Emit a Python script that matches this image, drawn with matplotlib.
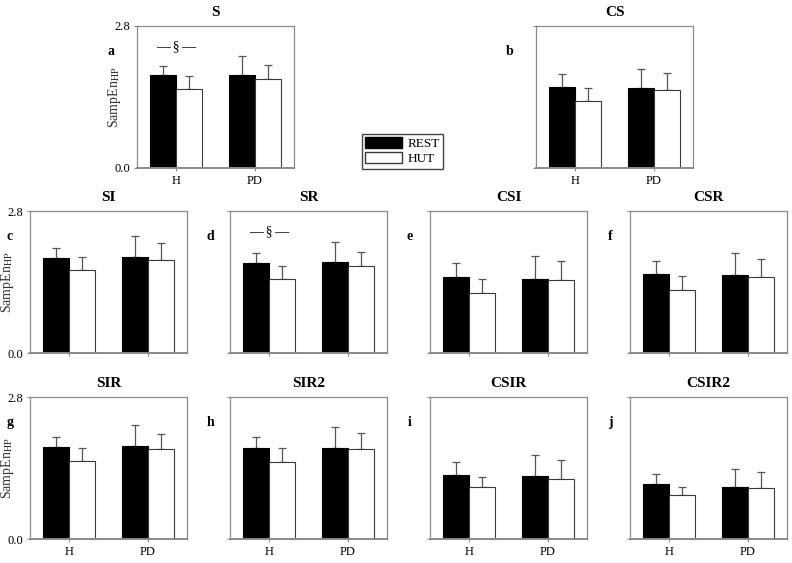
import numpy as np
import matplotlib
matplotlib.use('Agg')
import matplotlib.pyplot as plt
from matplotlib.patches import Patch

plt.rcParams['font.family'] = ['Liberation Serif', 'DejaVu Serif']
plt.rcParams['mathtext.fontset'] = 'stix'

# panel data: values are [H, PD]
titles = ['S', 'CS', 'SI', 'SR', 'CSI', 'CSR', 'SIR', 'SIR2', 'CSIR', 'CSIR2']
letters = ['a', 'b', 'c', 'd', 'e', 'f', 'g', 'h', 'i', 'j']
groups = ['H', 'PD']
rest_mean = [[1.83, 1.83], [1.60, 1.57], [1.88, 1.90], [1.77, 1.785], [1.495, 1.46],
             [1.55, 1.535], [1.81, 1.83], [1.79, 1.79], [1.27, 1.24], [1.075, 1.035]]
rest_sd = [[0.175, 0.38], [0.25, 0.38], [0.19, 0.41], [0.21, 0.405], [0.275, 0.46],
           [0.26, 0.445], [0.21, 0.41], [0.22, 0.42], [0.24, 0.41], [0.215, 0.355]]
hut_mean = [[1.56, 1.76], [1.33, 1.545], [1.63, 1.83], [1.46, 1.71], [1.186, 1.43],
            [1.24, 1.49], [1.53, 1.77], [1.51, 1.765], [1.02, 1.19], [0.86, 1.00]]
hut_sd = [[0.25, 0.27], [0.25, 0.335], [0.27, 0.34], [0.26, 0.29], [0.27, 0.38],
          [0.275, 0.37], [0.26, 0.31], [0.28, 0.325], [0.21, 0.36], [0.175, 0.32]]
sig_panels = ['a', 'd']   # significant REST vs HUT in H
ymax = 2.8

W, H = 792.0, 563.0
aw, ah = 157 / W, 142 / H
pos = {
    'a': (137, 168), 'b': (536, 168),
    'c': (30, 353), 'd': (230, 353), 'e': (430, 353), 'f': (630, 353),
    'g': (30, 539), 'h': (230, 539), 'i': (430, 539), 'j': (630, 539),
}

fig = plt.figure(figsize=(7.92, 5.63), dpi=100)
spine_col = '#8a8a8a'
bw = 0.33
x = np.arange(len(groups))

for k in range(len(titles)):
    let = letters[k]
    px, py = pos[let]
    ax = fig.add_axes([px / W, 1 - py / H, aw, ah])
    ax.bar(x - bw / 2, rest_mean[k], bw, color='black', edgecolor='black', lw=0.8, zorder=2)
    ax.bar(x + bw / 2, hut_mean[k], bw, color='white', edgecolor='#3a3a3a', lw=0.8, zorder=2)
    ax.errorbar(x - bw / 2, rest_mean[k], yerr=[np.zeros(2), rest_sd[k]], fmt='none',
                ecolor='#555555', elinewidth=0.9, capsize=3, capthick=0.9, zorder=1)
    ax.errorbar(x + bw / 2, hut_mean[k], yerr=[np.zeros(2), hut_sd[k]], fmt='none',
                ecolor='#555555', elinewidth=0.9, capsize=3, capthick=0.9, zorder=1)
    ax.set_xlim(-0.5, 1.5)
    ax.set_ylim(0, ymax)
    for s in ax.spines.values():
        s.set_color(spine_col)
        s.set_linewidth(0.9)
    ax.spines['bottom'].set_linewidth(1.4)
    ax.set_title(titles[k], fontsize=11, fontweight='bold', pad=7)
    lx = -0.165 if let in ['a', 'b'] else -0.127
    ax.text(lx, 0.82, let, transform=ax.transAxes, fontsize=10, fontweight='bold',
            ha='center', va='center')
    ax.set_xticks(x)
    ax.tick_params(axis='both', length=2, color=spine_col, labelsize=9, pad=3)
    if let in ['a', 'b', 'g', 'h', 'i', 'j']:
        ax.set_xticklabels(groups)
    else:
        ax.set_xticklabels([])
    ax.set_yticks([0, ymax])
    if let in ['a', 'c', 'g']:
        ax.set_yticklabels(['0.0', '2.8'])
        ax.set_ylabel('SampEn$_{\\mathrm{HP}}$', fontsize=10, color='#333333')
        ax.yaxis.set_label_coords(-0.09, 0.5)
    else:
        ax.set_yticklabels([])
    if let in sig_panels:
        ax.text(0, 2.4, '\u2014\u2009\u00a7\u2009\u2014', ha='center', va='center',
                fontsize=10, family=['Liberation Serif', 'DejaVu Serif'])

handles = [Patch(facecolor='black', edgecolor='black', label='REST'),
           Patch(facecolor='white', edgecolor='#3a3a3a', label='HUT')]
fig.legend(handles=handles, loc='upper left', bbox_to_anchor=(0.457, 0.762),
           borderaxespad=0, fancybox=False, edgecolor='#444444', fontsize=9.5,
           handlelength=2.8, handleheight=0.9, borderpad=0.25, labelspacing=0.15,
           handletextpad=0.4, framealpha=1)

fig.savefig('out.png', dpi=100)
